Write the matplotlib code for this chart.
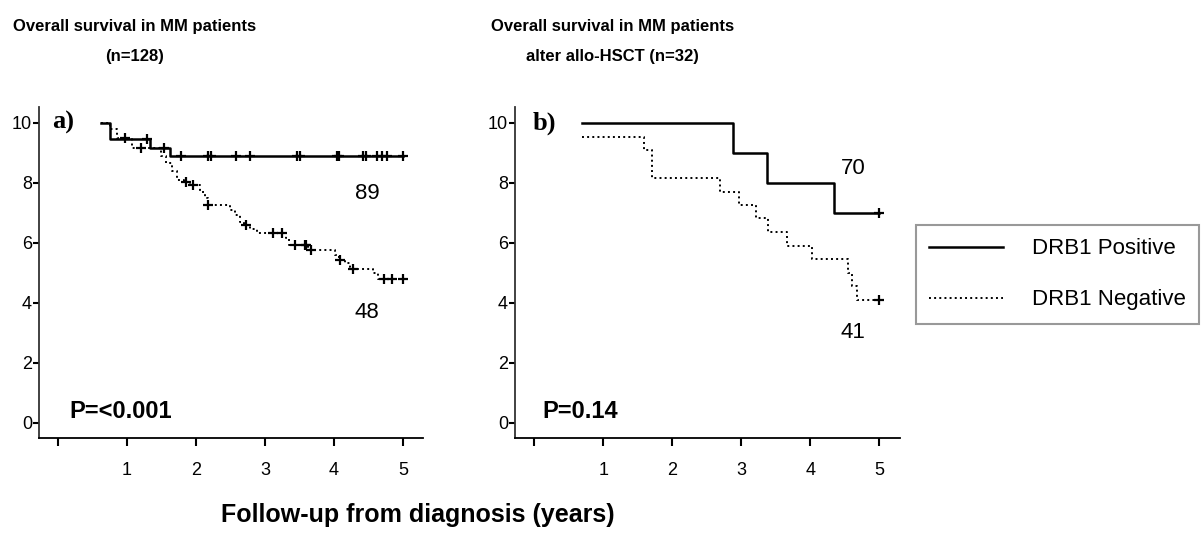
import numpy as np
import matplotlib
matplotlib.use("Agg")
import matplotlib.pyplot as plt

plt.rcParams['font.family'] = ['Liberation Sans', 'DejaVu Sans']

# panel a) all MM patients (n=128), survival x10
a_pos_t = [0.63, 0.755, 1.33, 1.63]
a_pos_s = [10, 9.47, 9.17, 8.9]
a_pos_cens = [1.285, 1.54, 1.79, 2.17, 2.22, 2.58, 2.79, 3.46, 3.51,
              4.05, 4.07, 4.42, 4.47, 4.63, 4.69, 4.77, 5.0]
a_neg_t = [0.63, 0.754, 0.86, 1.07, 1.50, 1.57, 1.65, 1.72, 1.83, 1.91,
           2.06, 2.13, 2.17, 2.49, 2.57, 2.64, 2.70, 2.78, 2.88, 3.31,
           3.35, 3.63, 4.01, 4.07, 4.16, 4.23, 4.26, 4.57, 4.64]
a_neg_s = [10, 9.79, 9.49, 9.16, 8.88, 8.66, 8.38, 8.10, 8.02, 7.93,
           7.71, 7.49, 7.27, 7.10, 6.93, 6.71, 6.60, 6.46, 6.34, 6.16,
           5.92, 5.77, 5.60, 5.43, 5.32, 5.21, 5.12, 4.99, 4.80]
a_neg_cens = [0.97, 1.21, 1.86, 1.96, 2.18, 2.72, 3.12, 3.24, 3.43, 3.58,
              3.60, 3.66, 4.09, 4.27, 4.72, 4.84, 5.0]

# panel b) after allo-HSCT (n=32)
b_pos_t = [0.686, 2.88, 3.37, 4.34]
b_pos_s = [10, 9, 8, 7]
b_pos_cens = [5.0]
b_neg_t = [0.686, 1.59, 1.71, 2.69, 2.97, 3.21, 3.39, 3.66, 4.02, 4.54, 4.61, 4.67]
b_neg_s = [9.52, 9.1, 8.16, 7.71, 7.27, 6.82, 6.36, 5.91, 5.46, 5.0, 4.55, 4.1]
b_neg_cens = [5.0]

end_time = 5.0
xticks = [0, 1, 2, 3, 4, 5]
xticklabels = ['', '1', '2', '3', '4', '5']
yticks = [0, 2, 4, 6, 8, 10]


def km(ax, t, s, cens, ls, lw, label):
    tt = list(t) + [end_time]
    ss = list(s) + [s[-1]]
    ax.step(tt, ss, where='post', color='black', ls=ls, lw=lw, label=label)
    idx = np.searchsorted(t, cens, side='right') - 1
    ax.plot(cens, np.array(s)[idx], ls='none', marker='+', ms=7.5, mew=1.6, color='black')


fig = plt.figure(figsize=(12.03, 5.44), dpi=100)
ax_a = fig.add_axes([0.0324, 0.1949, 0.3192, 0.6085])
ax_b = fig.add_axes([0.4281, 0.1949, 0.3200, 0.6085])

for ax in (ax_a, ax_b):
    ax.spines['top'].set_visible(False)
    ax.spines['right'].set_visible(False)
    ax.spines['left'].set_linewidth(1.3)
    ax.spines['bottom'].set_linewidth(1.3)
    ax.spines['left'].set_color('#333333')
    ax.set_ylim(-0.5, 10.53)
    ax.set_yticks(yticks)
    ax.set_xticks(xticks)
    ax.set_xticklabels(xticklabels)
    ax.tick_params(axis='y', length=4, width=1.5, pad=1, labelsize=13)
    ax.tick_params(axis='x', length=6, width=1.5, pad=11, labelsize=13)

ax_a.set_xlim(-0.275, 5.29)
ax_b.set_xlim(-0.28, 5.30)

km(ax_a, a_pos_t, a_pos_s, a_pos_cens, '-', 1.8, 'DRB1 Positive')
km(ax_a, a_neg_t, a_neg_s, a_neg_cens, ':', 1.4, 'DRB1 Negative')
km(ax_b, b_pos_t, b_pos_s, b_pos_cens, '-', 1.8, 'DRB1 Positive')
km(ax_b, b_neg_t, b_neg_s, b_neg_cens, ':', 1.4, 'DRB1 Negative')

# annotations
ax_a.text(-0.09, 10, 'a)', family='Liberation Serif', fontweight='bold', fontsize=19, va='center')
ax_b.text(-0.02, 10, 'b)', family='Liberation Serif', fontweight='bold', fontsize=19, va='center')
ax_a.text(4.48, 7.63, '89', fontsize=16, ha='center', va='center')
ax_a.text(4.48, 3.68, '48', fontsize=16, ha='center', va='center')
ax_b.text(4.62, 8.48, '70', fontsize=16, ha='center', va='center')
ax_b.text(4.62, 3.03, '41', fontsize=16, ha='center', va='center')
ax_a.text(0.17, 0.37, 'P=<0.001', fontsize=17, fontweight='bold', va='center')
ax_b.text(0.12, 0.37, 'P=0.14', fontsize=17, fontweight='bold', va='center')

# panel titles, two lines each
title_kw = dict(fontweight='bold', fontsize=12, ha='center', va='center')
fig.text(0.112, 1 - 26 / 544, 'Overall survival in MM patients', **title_kw)
fig.text(0.112, 1 - 56 / 544, '(n=128)', **title_kw)
fig.text(0.509, 1 - 26 / 544, 'Overall survival in MM patients', **title_kw)
fig.text(0.509, 1 - 56 / 544, 'alter allo-HSCT (n=32)', **title_kw)

fig.text(0.3475, 0.0533, 'Follow-up from diagnosis (years)', fontsize=18, fontweight='bold',
         ha='center', va='center')

handles, labels = ax_b.get_legend_handles_labels()
leg = fig.legend(handles, labels, loc='upper left', bbox_to_anchor=(916 / 1203, 1 - 225 / 544),
                 borderaxespad=0, fontsize=16, handlelength=3.3, handletextpad=1.3,
                 labelspacing=1.35, borderpad=0.6, fancybox=False, framealpha=1)
leg.get_frame().set_edgecolor('#999999')
leg.get_frame().set_linewidth(1.5)

fig.savefig('out.png', dpi=100)
